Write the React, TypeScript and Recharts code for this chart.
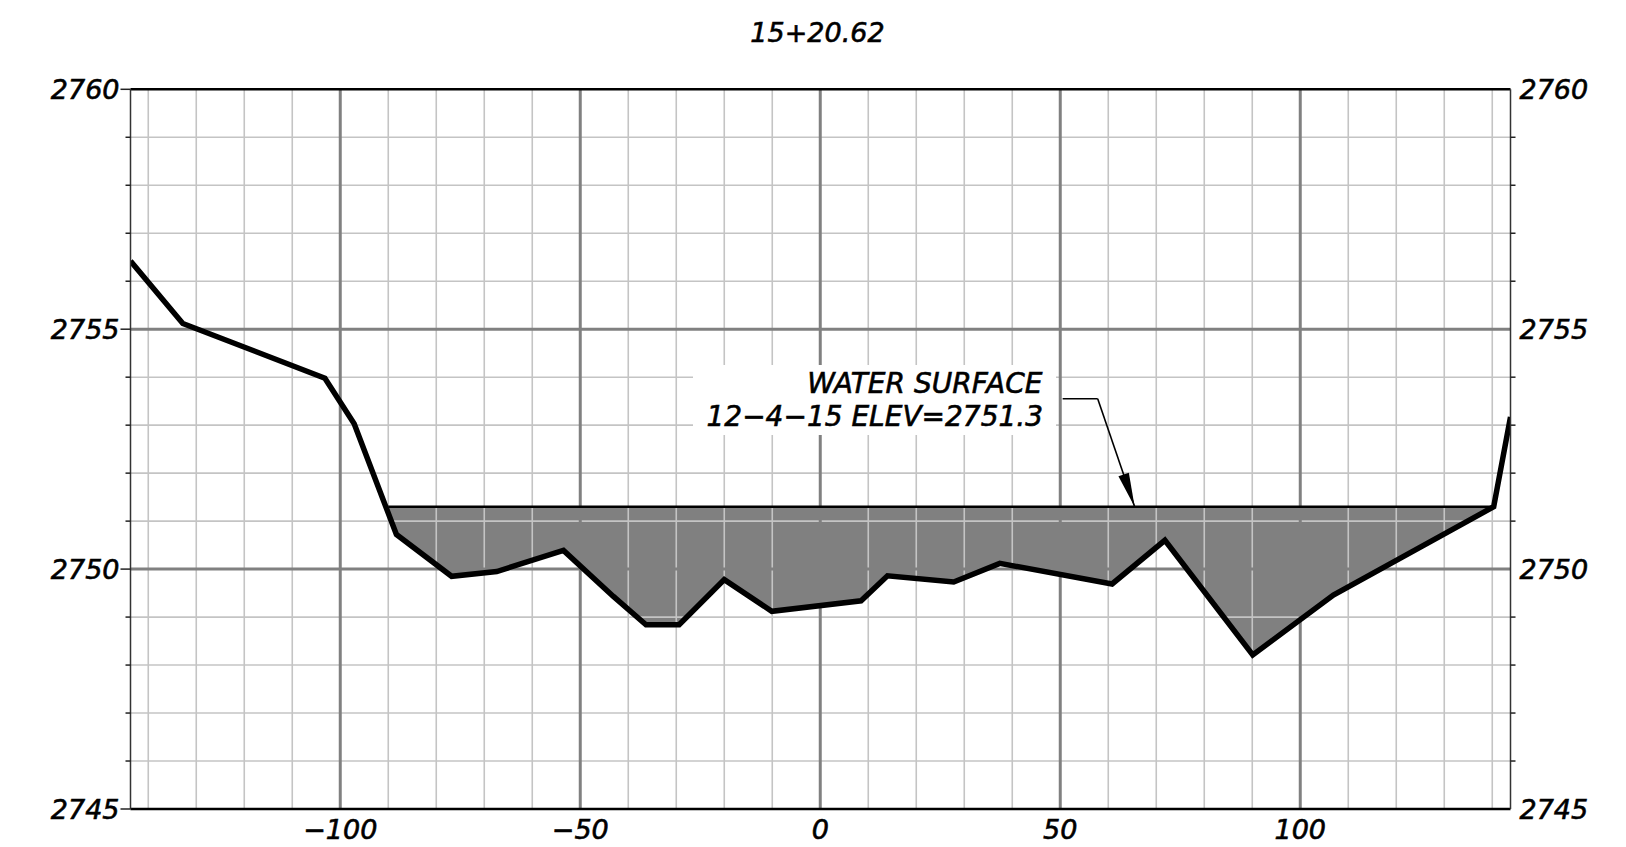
import React from "react";
import { Area, ComposedChart, Line, ReferenceLine, XAxis, YAxis } from "recharts";

// cross section 15+20.62 : offset (ft) vs elevation
const stations = [
  -143.7, -132.8, -103.2, -97.1, -88.3, -76.8, -67.4, -53.5, -43.1, -36.3, -29.4, -20.0,
  -10.1, 8.5, 14.0, 27.8, 37.4, 60.8, 71.8, 90.1, 106.9, 140.3, 143.8
];
const elevations = [
  2756.42, 2755.12, 2753.98, 2753.03, 2750.72, 2749.85, 2749.95, 2750.39, 2749.43, 2748.84,
  2748.84, 2749.78, 2749.12, 2749.34, 2749.86, 2749.73, 2750.12, 2749.69, 2750.6, 2748.21,
  2749.46, 2751.3, 2753.17
];

const waterLevel = 2751.3;
const waterStart = -90.0;
const waterEnd = 140.3;

const leaderX = [50.5, 57.8, 65.5];
const leaderY = [2753.55, 2753.55, 2751.3];

const xTicks = [-100, -50, 0, 50, 100];
const yTicks = [
  2745, 2746, 2747, 2748, 2749, 2750, 2751, 2752, 2753, 2754, 2755, 2756, 2757, 2758, 2759, 2760
];
const minorX = [
  -140, -130, -120, -110, -90, -80, -70, -60, -40, -30, -20, -10, 10, 20, 30, 40, 60, 70, 80,
  90, 110, 120, 130, 140
];
const majorX = [-100, -50, 0, 50, 100];
const minorY = [2746, 2747, 2748, 2749, 2751, 2752, 2753, 2754, 2756, 2757, 2758, 2759];
const majorY = [2750, 2755];

const title = "15+20.62";
const noteLines = ["WATER SURFACE", "12\u22124\u221215 ELEV=2751.3"];

const FONT = "'DejaVu Sans', sans-serif";
const txt = {
  fontFamily: FONT,
  fontStyle: "italic",
  fill: "#000",
  stroke: "#000",
  strokeWidth: 0.6
} as const;

const groundRows = stations.map((x, i) => ({ x, ground: elevations[i] }));
const wetRows = [
  { x: waterStart, wet: [waterLevel, waterLevel] },
  ...groundRows
    .filter((r) => r.x > waterStart && r.x < waterEnd)
    .map((r) => ({ x: r.x, wet: [r.ground, waterLevel] })),
  { x: waterEnd, wet: [waterLevel, waterLevel] }
];

const fmt = (v: number) => (v < 0 ? `\u2212${Math.abs(v)}` : `${v}`);

function LeftTick({ x, y, payload }: any) {
  const major = payload.value % 5 === 0;
  return (
    <g>
      <line x1={x - (major ? 10 : 5)} x2={x} y1={y} y2={y} stroke="#222" strokeWidth={1.5} />
      {major && (
        <text x={x - 11} y={y + 10} textAnchor="end" fontSize={27} {...txt}>
          {payload.value}
        </text>
      )}
    </g>
  );
}

function RightTick({ x, y, payload }: any) {
  const major = payload.value % 5 === 0;
  return (
    <g>
      {!major && <line x1={x} x2={x + 5} y1={y} y2={y} stroke="#222" strokeWidth={1.5} />}
      {major && (
        <text x={x + 9} y={y + 10} textAnchor="start" fontSize={27} {...txt}>
          {payload.value}
        </text>
      )}
    </g>
  );
}

function BottomTick({ x, y, payload }: any) {
  return (
    <text x={x} y={y + 30} textAnchor="middle" fontSize={27} {...txt}>
      {fmt(payload.value)}
    </text>
  );
}

function ArrowShape(p: any) {
  const { x1, y1, x2, y2 } = p;
  const dx = x2 - x1;
  const dy = y2 - y1;
  const len = Math.hypot(dx, dy) || 1;
  const ux = dx / len;
  const uy = dy / len;
  const L = 34;
  const W = 5.5;
  const bx = x2 - ux * L;
  const by = y2 - uy * L;
  const pts = `${x2},${y2} ${bx - uy * W},${by + ux * W} ${bx + uy * W},${by - ux * W}`;
  return (
    <g>
      <line x1={x1} y1={y1} x2={x2} y2={y2} stroke="#000" strokeWidth={1.6} />
      <polygon points={pts} fill="#000" />
    </g>
  );
}

export default function App() {
  return (
    <div style={{ position: "relative", width: 1610, height: 838 }}>
      <ComposedChart
        width={1610}
        height={838}
        margin={{ top: 81.3, right: 27.5, left: 42.5, bottom: 0 }}
      >
        <XAxis
          dataKey="x"
          type="number"
          domain={[-143.7, 143.8]}
          allowDataOverflow
          ticks={xTicks}
          interval={0}
          tick={<BottomTick />}
          tickLine={false}
          tickSize={0}
          tickMargin={0}
          height={37}
          axisLine={{ stroke: "#000", strokeWidth: 2.5 }}
        />
        <YAxis
          yAxisId="l"
          orientation="left"
          type="number"
          domain={[2745, 2760]}
          allowDataOverflow
          ticks={yTicks}
          interval={0}
          tick={<LeftTick />}
          tickLine={false}
          tickSize={0}
          tickMargin={0}
          width={80}
          axisLine={{ stroke: "#333", strokeWidth: 1.5 }}
        />
        <YAxis
          yAxisId="r"
          orientation="right"
          type="number"
          domain={[2745, 2760]}
          allowDataOverflow
          ticks={yTicks}
          interval={0}
          tick={<RightTick />}
          tickLine={false}
          tickSize={0}
          tickMargin={0}
          width={80}
          axisLine={{ stroke: "#333", strokeWidth: 1.5 }}
        />

        <Area
          yAxisId="l"
          data={wetRows}
          dataKey="wet"
          type="linear"
          stroke="none"
          fill="#808080"
          fillOpacity={1}
          isAnimationActive={false}
        />

        {minorX.map((v) => (
          <ReferenceLine key={`mx${v}`} yAxisId="l" x={v} stroke="#c4c4c4" strokeWidth={1.6} />
        ))}
        {minorY.map((v) => (
          <ReferenceLine key={`my${v}`} yAxisId="l" y={v} stroke="#c4c4c4" strokeWidth={1.6} />
        ))}
        {majorX.map((v) => (
          <ReferenceLine key={`Mx${v}`} yAxisId="l" x={v} stroke="#808080" strokeWidth={3} />
        ))}
        {majorY.map((v) => (
          <ReferenceLine key={`My${v}`} yAxisId="l" y={v} stroke="#808080" strokeWidth={3} />
        ))}
        <ReferenceLine yAxisId="l" y={2760} stroke="#000" strokeWidth={2.5} />

        <ReferenceLine
          yAxisId="l"
          segment={[
            { x: waterStart, y: waterLevel },
            { x: waterEnd, y: waterLevel }
          ]}
          stroke="#000"
          strokeWidth={2.5}
        />
        <ReferenceLine
          yAxisId="l"
          segment={[
            { x: leaderX[0], y: leaderY[0] },
            { x: leaderX[1], y: leaderY[1] }
          ]}
          stroke="#000"
          strokeWidth={1.6}
        />
        <ReferenceLine
          yAxisId="l"
          segment={[
            { x: leaderX[1], y: leaderY[1] },
            { x: leaderX[2], y: leaderY[2] }
          ]}
          shape={<ArrowShape />}
        />

        <Line
          yAxisId="l"
          data={groundRows}
          dataKey="ground"
          type="linear"
          stroke="#000"
          strokeWidth={5.5}
          strokeLinejoin="miter"
          dot={false}
          activeDot={false}
          isAnimationActive={false}
        />
      </ComposedChart>

      <svg
        width={1610}
        height={838}
        style={{ position: "absolute", left: 0, top: 0, pointerEvents: "none" }}
      >
        <text x={809.5} y={34.3} textAnchor="middle" fontSize={27} {...txt}>
          {title}
        </text>
        <rect x={685} y={357} width={363} height={70} fill="#fff" />
        <text x={1034.5} y={385.3} textAnchor="end" fontSize={28} {...txt}>
          {noteLines[0]}
        </text>
        <text x={1035} y={418} textAnchor="end" fontSize={28} {...txt}>
          {noteLines[1]}
        </text>
      </svg>
    </div>
  );
}
